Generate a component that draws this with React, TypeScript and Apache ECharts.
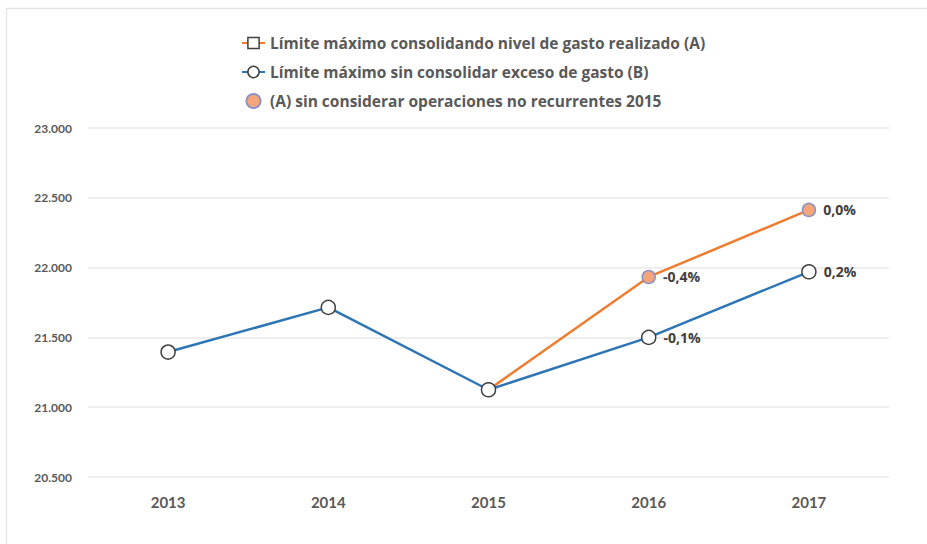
import React, { useEffect, useRef } from "react";
import * as echarts from "echarts";

const years = ["2013", "2014", "2015", "2016", "2017"];
const seriesA = [null, null, 21125, 21933, 22413];
const seriesB = [21395, 21715, 21125, 21500, 21970];
const seriesC = [null, null, null, 21933, 22413];
const labelsB = ["", "", "", "-0,1%", "0,2%"];
const labelsC = ["", "", "", "-0,4%", "0,0%"];
const names = [
  "Límite máximo consolidando nivel de gasto realizado (A)",
  "Límite máximo sin consolidar exceso de gasto (B)",
  "(A) sin considerar operaciones no recurrentes 2015",
];

const FONT = "'Open Sans', Lato, sans-serif";
const FONT_AX = "Lato, 'Open Sans', sans-serif";

export default function App() {
  const ref = useRef<HTMLDivElement>(null);
  useEffect(() => {
    if (!ref.current) return;
    const chart = echarts.init(ref.current, undefined, { renderer: "svg" });
    const labelStyle = {
      show: true,
      position: "right" as const,
      distance: 7,
      fontFamily: FONT,
      fontWeight: "bold" as const,
      fontSize: 14,
      color: "#404040",
    };
    chart.setOption({
      animation: false,
      backgroundColor: "#ffffff",
      textStyle: { fontFamily: FONT },
      graphic: [
        {
          type: "rect",
          shape: { x: 6.5, y: 8.5, width: 940, height: 560 },
          style: { fill: "none", stroke: "#e6e6e6", lineWidth: 1.5 },
          silent: true,
        },
      ],
      legend: {
        orient: "vertical",
        left: 236,
        top: 30,
        itemGap: 13,
        itemWidth: 23,
        itemHeight: 14,
        textStyle: {
          fontFamily: FONT,
          fontWeight: "bold",
          fontSize: 15.5,
          color: "#595959",
        },
        data: [
          {
            name: names[0],
            itemStyle: { color: "#ffffff", borderColor: "#404040", borderWidth: 1.5 },
          },
          {
            name: names[1],
            itemStyle: { color: "#ffffff", borderColor: "#404040", borderWidth: 1.5 },
          },
          { name: names[2] },
        ],
      },
      grid: { left: 88, right: 38, top: 128, bottom: 67 },
      xAxis: {
        type: "category",
        data: years,
        boundaryGap: true,
        axisLine: { show: false },
        axisTick: { show: false },
        axisLabel: {
          margin: 17,
          fontFamily: FONT_AX,
          fontWeight: "bold",
          fontSize: 15,
          color: "#595959",
        },
      },
      yAxis: {
        type: "value",
        min: 20500,
        max: 23000,
        interval: 500,
        axisLine: { show: false },
        axisTick: { show: false },
        splitLine: { lineStyle: { color: "#e8e8e8", width: 1.5 } },
        axisLabel: {
          margin: 16,
          fontFamily: FONT_AX,
          fontWeight: "bold",
          fontSize: 12,
          color: "#595959",
          formatter: (v: number) => {
            const s = String(v);
            return s.slice(0, s.length - 3) + "." + s.slice(-3);
          },
        },
      },
      series: [
        {
          name: names[0],
          type: "line",
          data: seriesA,
          z: 2,
          symbol: "rect",
          symbolSize: 9,
          showSymbol: true,
          connectNulls: false,
          lineStyle: { color: "#ED7D31", width: 2.5 },
          itemStyle: { color: "#ffffff", borderColor: "#404040", borderWidth: 1.5 },
        },
        {
          name: names[1],
          type: "line",
          data: seriesB,
          z: 3,
          symbol: "circle",
          symbolSize: 14,
          lineStyle: { color: "#2E75B6", width: 2.5 },
          itemStyle: { color: "#ffffff", borderColor: "#404040", borderWidth: 1.5 },
          label: {
            ...labelStyle,
            formatter: (p: any) => labelsB[p.dataIndex],
          },
        },
        {
          name: names[2],
          type: "scatter",
          data: seriesC,
          z: 4,
          symbol: "circle",
          symbolSize: 13,
          itemStyle: {
            color: "#F4A57A",
            borderColor: "#8E93C4",
            borderWidth: 1.5,
            opacity: 1,
          },
          label: {
            ...labelStyle,
            formatter: (p: any) => labelsC[p.dataIndex],
          },
        },
      ],
    });
    return () => chart.dispose();
  }, []);
  return (
    <div
      ref={ref}
      style={{ position: "absolute", left: 0, top: 0, width: 927, height: 544 }}
    />
  );
}
